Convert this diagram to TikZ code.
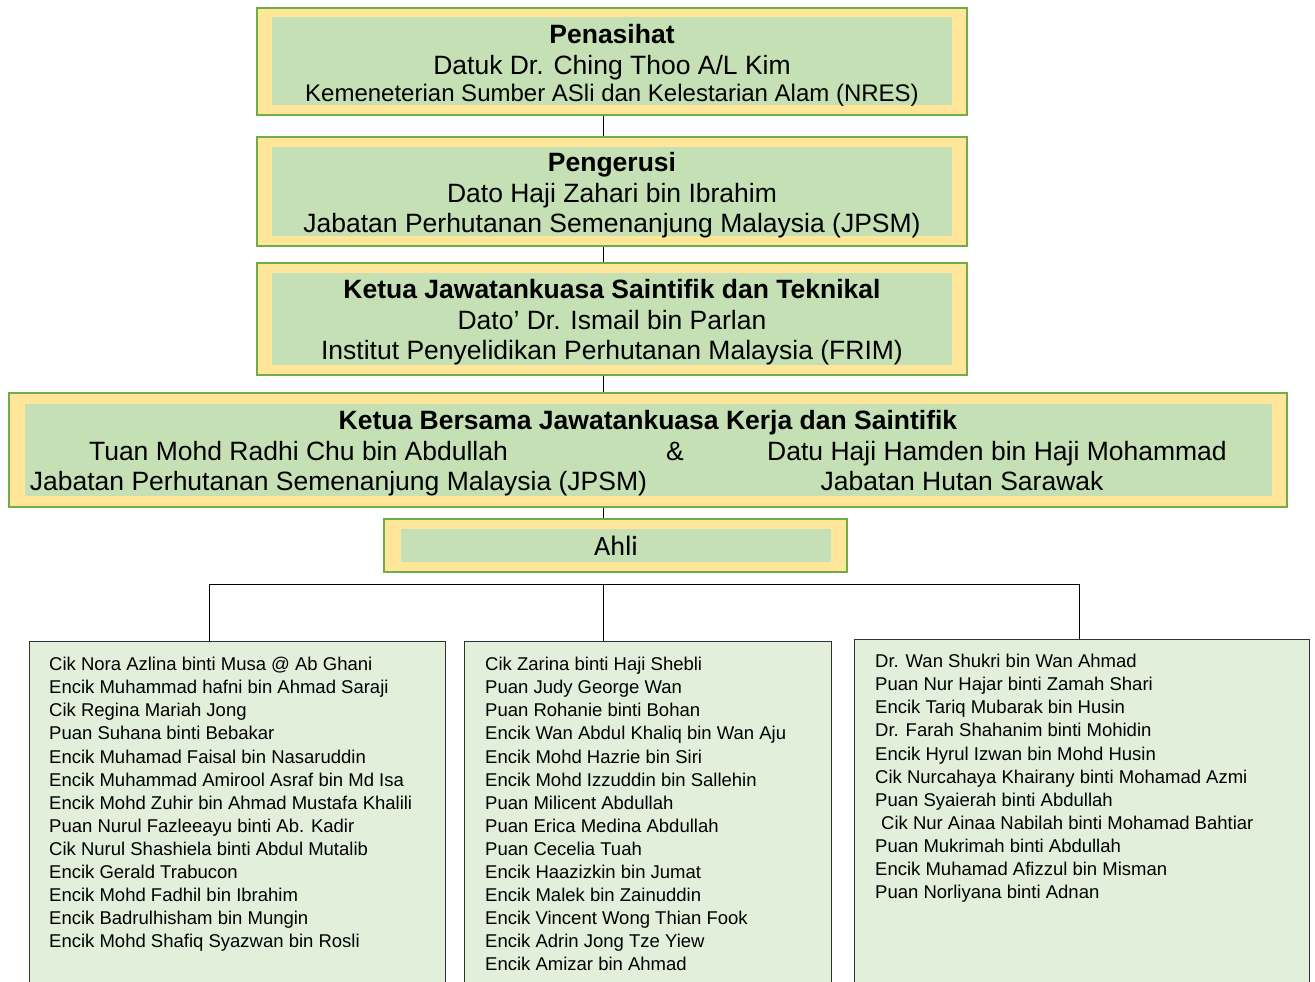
\documentclass[tikz,border=0pt]{standalone}
\usepackage{fontspec}
\setmainfont{Liberation Sans}
\newfontfamily\ahlifont{Carlito}
\usetikzlibrary{positioning, calc}
\definecolor{panelYellow}{HTML}{FFE699}
\definecolor{panelBorder}{HTML}{70AD47}
\definecolor{plateGreen}{HTML}{C5E0B4}
\definecolor{memberGreen}{HTML}{E2EFDA}
\definecolor{memberBorder}{HTML}{333333}
\tikzset{
  panel/.style = {
    draw=panelBorder,
    fill=panelYellow,
    line width=1.2pt,
    inner sep=0pt,
    minimum width=710pt,
  },
  plate/.style = {
    fill=plateGreen,
    inner sep=0pt,
    minimum width=680pt,
  },
  blockText/.style = {
    align=center,
    inner sep=0pt,
    font=\fontsize{26.5}{30.5}\selectfont,
  },
  member/.style = {
    draw=memberBorder,
    fill=memberGreen,
    line width=1.4pt,
    anchor=north west,
    minimum height=400pt,
  },
  names/.style = {
    align=left,
    anchor=north west,
    inner sep=0pt,
    font=\fontsize{18.5}{23.1}\selectfont,
  },
}

\begin{document}
\begin{tikzpicture}[
  x=1pt,
  y=-1pt,
  goes/.style = {
    draw=black,
    line width=1pt,
  },
  caption/.style = {
    anchor=base,
    inner sep=0pt,
    font=\fontsize{26.5}{30.5}\selectfont,
  },
]
\useasboundingbox (0,0) rectangle (1315,982);
\clip (0,0) rectangle (1315,982);

\node[panel, minimum height=107pt] (Penasihat) at (612,61.5) {};
\node[plate, minimum height=88pt] (PenasihatPlate) at (612,61) {};
\node[blockText] (PenasihatText) at (612,65.5) {\textbf{Penasihat}\\Datuk Dr. Ching Thoo A/L Kim\\[-3pt]{\fontsize{24}{28}\selectfont Kemeneterian Sumber ASli dan Kelestarian Alam (NRES)}};

\node[panel, minimum height=109pt] (Pengerusi) at (612,191.5) {};
\node[plate, minimum height=89pt] (PengerusiPlate) at (612,191.5) {};
\node[blockText] (PengerusiText) at (612,195.5) {\textbf{Pengerusi}\\Dato Haji Zahari bin Ibrahim\\Jabatan Perhutanan Semenanjung Malaysia (JPSM)};

\node[panel, minimum height=112pt] (Ketua) at (612,319) {};
\node[plate, minimum height=92pt] (KetuaPlate) at (612,319) {};
\node[blockText] (KetuaText) at (612,322.5) {\textbf{Ketua Jawatankuasa Saintifik dan Teknikal}\\Dato’ Dr. Ismail bin Parlan\\Institut Penyelidikan Perhutanan Malaysia (FRIM)};

\node[panel, minimum width=1278pt, minimum height=114pt] (Bersama) at (648,450) {};
\node[plate, minimum width=1247pt, minimum height=92pt] (BersamaPlate) at (648.5,450) {};
\node[caption] (BersamaTitle) at (648,429) {\textbf{Ketua Bersama Jawatankuasa Kerja dan Saintifik}};
\node[caption] (Radhi) at (298.5,460) {Tuan Mohd Radhi Chu bin Abdullah};
\node[caption] (Amp) at (675,460) {\&};
\node[caption] (Hamden) at (997,460) {Datu Haji Hamden bin Haji Mohammad};
\node[caption] (RadhiOrg) at (338.5,490) {Jabatan Perhutanan Semenanjung Malaysia (JPSM)};
\node[caption] (HamdenOrg) at (962,490) {Jabatan Hutan Sarawak};

\node[panel, minimum width=463pt, minimum height=53pt] (Ahli) at (615.5,545.5) {};
\node[plate, minimum width=430pt, minimum height=33pt, font=\ahlifont\fontsize{28}{30}\selectfont] (AhliText) at (616,545.5) {Ahli};

\node[member, minimum width=416pt] (GroupA) at (29,641) {};
\node[member, minimum width=367pt] (GroupB) at (464,641) {};
\node[member, minimum width=455pt] (GroupC) at (854,639) {};

\node[names] (ListA) at (49,657) {Cik Nora Azlina binti Musa @ Ab Ghani\\Encik Muhammad hafni bin Ahmad Saraji\\Cik Regina Mariah Jong\\Puan Suhana binti Bebakar\\Encik Muhamad Faisal bin Nasaruddin\\Encik Muhammad Amirool Asraf bin Md Isa\\Encik Mohd Zuhir bin Ahmad Mustafa Khalili\\Puan Nurul Fazleeayu binti Ab. Kadir\\Cik Nurul Shashiela binti Abdul Mutalib\\Encik Gerald Trabucon\\Encik Mohd Fadhil bin Ibrahim\\Encik Badrulhisham bin Mungin\\Encik Mohd Shafiq Syazwan bin Rosli};
\node[names] (ListB) at (485,657) {Cik Zarina binti Haji Shebli\\Puan Judy George Wan\\Puan Rohanie binti Bohan\\Encik Wan Abdul Khaliq bin Wan Aju\\Encik Mohd Hazrie bin Siri\\Encik Mohd Izzuddin bin Sallehin\\Puan Milicent Abdullah\\Puan Erica Medina Abdullah\\Puan Cecelia Tuah\\Encik Haazizkin bin Jumat\\Encik Malek bin Zainuddin\\Encik Vincent Wong Thian Fook\\Encik Adrin Jong Tze Yiew\\Encik Amizar bin Ahmad};
\node[names] (ListC) at (875,654) {Dr. Wan Shukri bin Wan Ahmad\\Puan Nur Hajar binti Zamah Shari\\Encik Tariq Mubarak bin Husin\\Dr. Farah Shahanim binti Mohidin\\Encik Hyrul Izwan bin Mohd Husin\\Cik Nurcahaya Khairany binti Mohamad Azmi\\Puan Syaierah binti Abdullah\\\hspace{6pt}Cik Nur Ainaa Nabilah binti Mohamad Bahtiar\\Puan Mukrimah binti Abdullah\\Encik Muhamad Afizzul bin Misman\\Puan Norliyana binti Adnan};

\coordinate (Spine) at (603,584);
\coordinate (BusL) at (209,584);
\coordinate (BusR) at (1079,584);

\draw[goes] (Penasihat.south -| Spine) -- (Pengerusi.north -| Spine);
\draw[goes] (Pengerusi.south -| Spine) -- (Ketua.north -| Spine);
\draw[goes] (Ketua.south -| Spine) -- (Bersama.north -| Spine);
\draw[goes] (Bersama.south -| Spine) -- (Ahli.north -| Spine);

\draw[goes] (BusL) -- (BusR);
\draw[goes] (BusL) -- (BusL |- GroupA.north);
\draw[goes] (Spine) -- (Spine |- GroupB.north);
\draw[goes] (BusR) -- (BusR |- GroupC.north);

\end{tikzpicture}
\end{document}
